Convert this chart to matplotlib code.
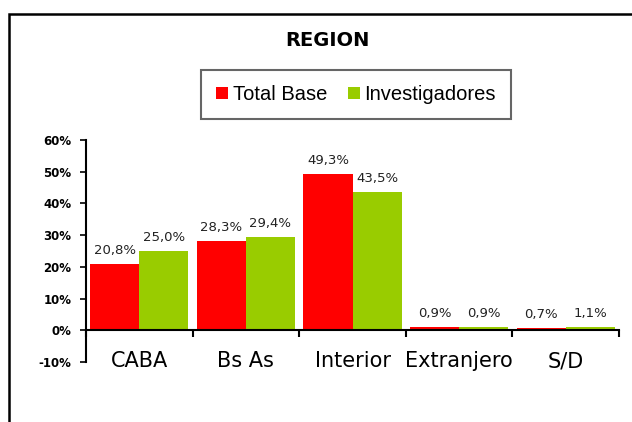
import matplotlib.pyplot as plt
from matplotlib.patches import Rectangle
from matplotlib.ticker import FixedLocator, FuncFormatter
import numpy as np

categories = ['CABA', 'Bs As', 'Interior', 'Extranjero', 'S/D']
total_base = [20.8, 28.3, 49.3, 0.9, 0.7]
investigadores = [25.0, 29.4, 43.5, 0.9, 1.1]
series_names = ['Total Base', 'Investigadores']
colors = ['#FF0000', '#99CC00']

fig = plt.figure(figsize=(6.32, 4.22), dpi=100)
ax = fig.add_axes([86 / 632, 1 - 362 / 422, 533 / 632, 222 / 422])

# outer frame, cut off at right/bottom like the source
fig.patches.append(Rectangle((8.5 / 632, -0.05), 1.0, 1 - 13.5 / 422 + 0.05,
                             transform=fig.transFigure, fill=False,
                             edgecolor='black', linewidth=1.8))

x = np.arange(len(categories))
w = 0.46
for vals, name, col, off in [(total_base, series_names[0], colors[0], -w / 2),
                             (investigadores, series_names[1], colors[1], w / 2)]:
    bars = ax.bar(x + off, vals, w, color=col, label=name)
    for b, v in zip(bars, vals):
        ax.annotate(('%.1f%%' % v).replace('.', ','),
                    (b.get_x() + b.get_width() / 2, v),
                    xytext=(0, 5), textcoords='offset points',
                    ha='center', va='bottom', fontsize=9.5,
                    family='DejaVu Sans', color='#222222')

ax.set_xlim(-0.5, len(categories) - 0.5)
ax.set_ylim(-10, 60)
ax.set_yticks(range(-10, 61, 10))
ax.yaxis.set_major_formatter(FuncFormatter(lambda v, p: '%d%%' % v))
for lab in ax.get_yticklabels():
    lab.set_fontweight('bold')
    lab.set_family('DejaVu Sans')
    lab.set_fontsize(8.5)
ax.tick_params(axis='y', direction='out', length=4, width=1.2, pad=6.5)

ax.spines['top'].set_visible(False)
ax.spines['right'].set_visible(False)
ax.spines['bottom'].set_position(('data', 0))
ax.spines['left'].set_linewidth(1.5)
ax.spines['bottom'].set_linewidth(1.5)

ax.set_xticks(x)
ax.set_xticklabels(categories, fontsize=15, family='DejaVu Sans')
ax.tick_params(axis='x', which='major', length=0, pad=15)
ax.xaxis.set_minor_locator(FixedLocator(np.arange(-0.5, len(categories), 1.0)))
ax.tick_params(axis='x', which='minor', direction='out', length=5, width=1.5)

fig.text(327 / 632, 1 - 40 / 422, 'REGION', ha='center', va='center',
         fontsize=14, fontweight='bold', family='DejaVu Sans')

leg = ax.legend(loc='center', bbox_to_anchor=(356 / 632, 1 - 94.5 / 422),
                bbox_transform=fig.transFigure, ncol=2, frameon=True,
                fancybox=False, edgecolor='#404040', handlelength=0.6,
                handleheight=0.6, handletextpad=0.25, columnspacing=1.0,
                borderpad=0.75, prop={'family': 'Liberation Sans', 'size': 14.5})
leg.get_frame().set_linewidth(1.5)

fig.savefig('out.png', dpi=100)
